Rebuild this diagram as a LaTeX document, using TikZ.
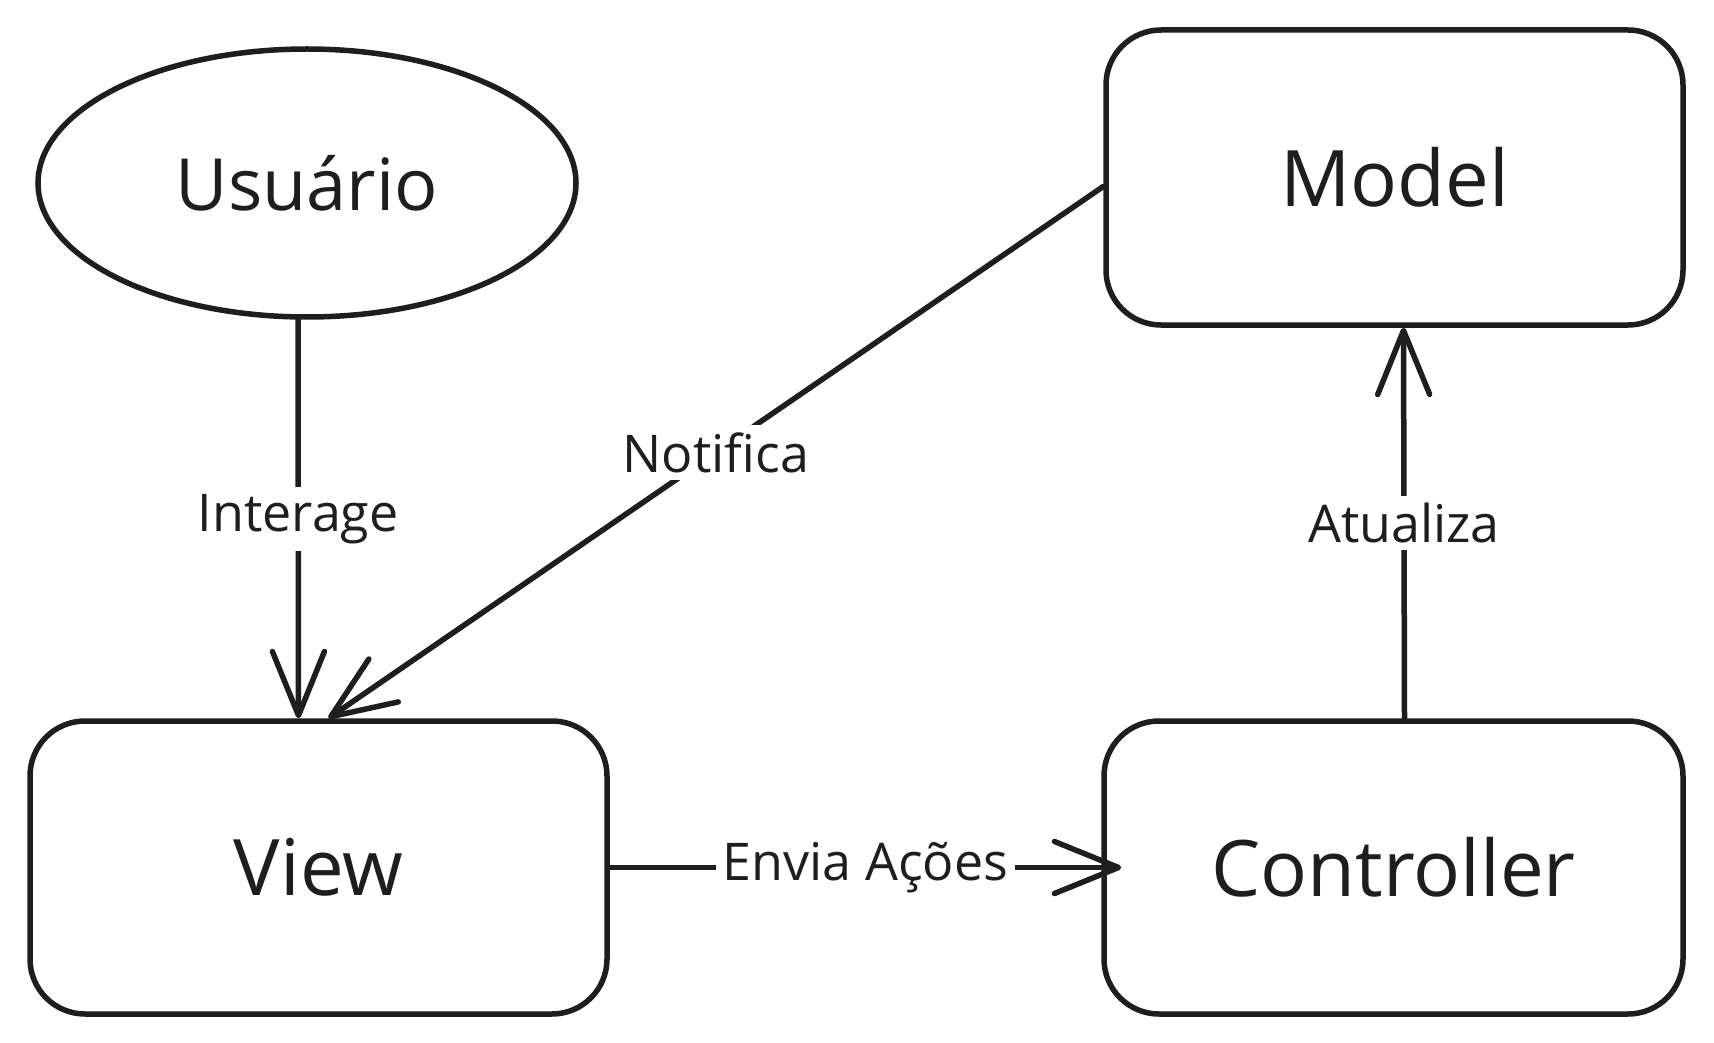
\documentclass[tikz,border=0pt]{standalone}
\usepackage{fontspec}
\setmainfont{Open Sans}
\usetikzlibrary{arrows.meta,shapes.geometric,calc}
\definecolor{ink}{HTML}{1E1E1E}
\tikzset{
  box/.style={draw=ink, line width=5.5pt, rounded corners=55pt, rectangle,
    minimum width=577pt, minimum height=293pt, inner sep=0pt,
    font=\fontsize{78}{88}\selectfont, text=ink},
  oval/.style={draw=ink, line width=5.5pt, ellipse, minimum width=538pt,
    minimum height=268pt, inner sep=0pt, font=\fontsize{72}{82}\selectfont, text=ink},
  arr/.style={draw=ink, line width=5.5pt, line cap=round,
    -{Straight Barb[length=64pt,width=52pt,line width=5.5pt, round]}},
  lbl/.style={fill=white, text=ink, inner sep=7pt, font=\fontsize{52}{60}\selectfont}
}
\begin{document}
\begin{tikzpicture}[x=1pt,y=-1pt]
\useasboundingbox[fill=white] (0,0) rectangle (1714,1043);
\node[oval] (usuario) at (307,183) {Usuário};
\node[box, minimum width=577pt, minimum height=295pt] (model) at (1394.5,177.5) {Model};
\node[box] (view) at (318.5,867.5) {View};
\node[box, minimum width=579pt] (controller) at (1393.5,867.5) {Controller};

\draw[arr] ([xshift=-9pt]usuario.south) -- ([xshift=-20pt]view.north)
  node[lbl, midway] {Interage};
\draw[arr] ([yshift=-9pt]model.west) -- ([xshift=10pt]view.north)
  node[lbl, midway] {Notifica};
\draw[arr] ([xshift=11pt]controller.north) -- ([xshift=9pt]model.south)
  node[lbl, midway] {Atualiza};
\draw[arr] (view.east) -- ([xshift=20pt]controller.west)
  node[lbl, midway] {Envia Ações};
\end{tikzpicture}
\end{document}
